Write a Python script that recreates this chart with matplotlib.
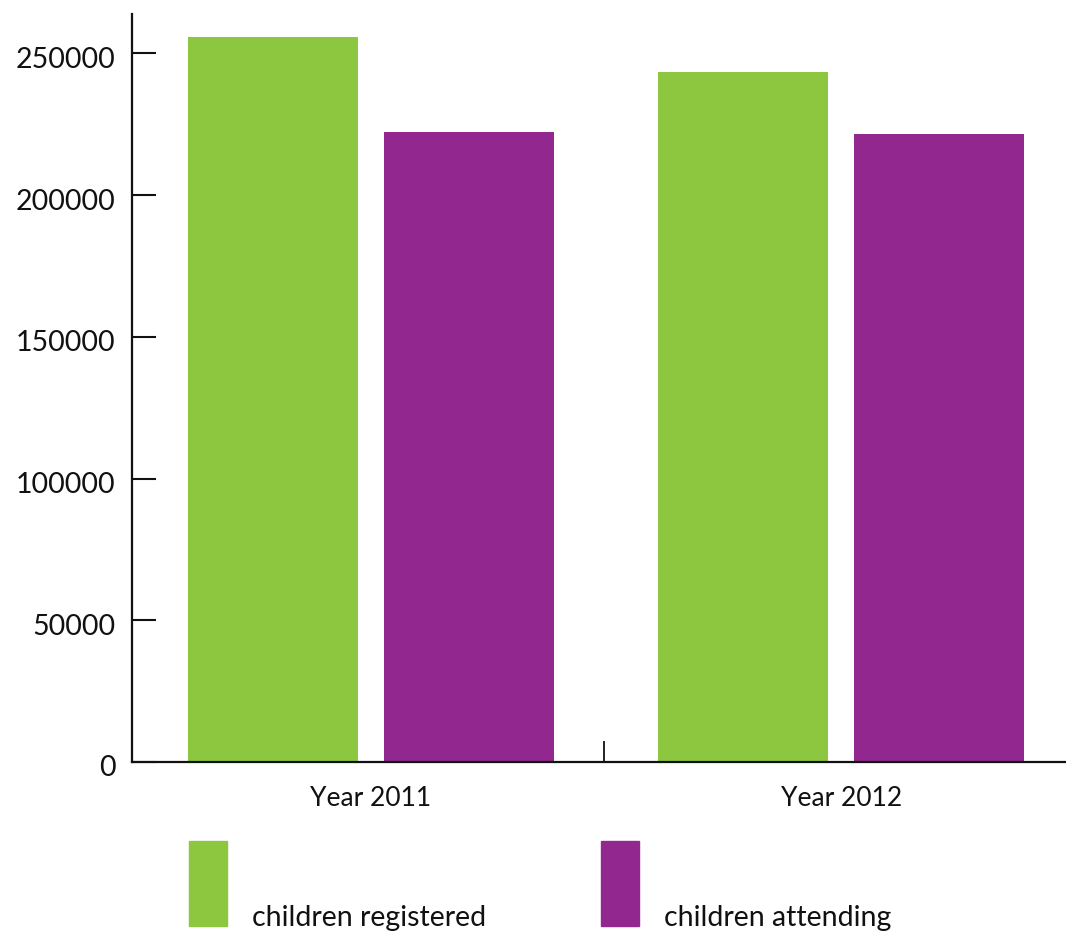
import matplotlib.pyplot as plt
from matplotlib.patches import Rectangle
from matplotlib.ticker import FixedLocator
from matplotlib.transforms import ScaledTranslation
import numpy as np

plt.rcParams['font.family'] = ['Lato', 'DejaVu Sans']

# data
years = ['Year 2011', 'Year 2012']
series_names = ['children registered', 'children attending']
registered = [255700, 243400]
attending = [222200, 221500]
colors = ['#8dc63f', '#92278f']

# figure and axes
fig = plt.figure(figsize=(10.66, 9.32), dpi=100)
ax = fig.add_axes([132 / 1066, 170 / 932, 940 / 1066, 748 / 932])

x = np.arange(len(years))
width = 0.361
offset = 0.208
ax.bar(x - offset, registered, width, color=colors[0])
ax.bar(x + offset, attending, width, color=colors[1])

ax.set_xlim(-0.507, 1.49)
ax.set_ylim(0, 263900)

# spines
for side in ['top', 'right']:
    ax.spines[side].set_visible(False)
for side in ['left', 'bottom']:
    ax.spines[side].set_linewidth(1.6)
    ax.spines[side].set_color('#111111')

# ticks
ax.set_yticks(np.arange(0, 250001, 50000))
ax.tick_params(axis='y', direction='in', length=17, width=1.5,
               labelsize=20.5, pad=12, colors='#111111')
ax.set_xticks(x)
ax.set_xticklabels(years)
ax.tick_params(axis='x', length=0, labelsize=19, pad=17, colors='#111111')
ax.xaxis.set_minor_locator(FixedLocator([0.495]))
ax.tick_params(axis='x', which='minor', direction='in', length=15, width=1.3,
               color='#111111')

# y labels sit a little below their ticks in the original
shift = ScaledTranslation(0, -4 / 100, fig.dpi_scale_trans)
for label in ax.get_yticklabels():
    label.set_transform(label.get_transform() + shift)

# legend drawn by hand below the chart
legend_x = [189, 601]
for name, color, lx in zip(series_names, colors, legend_x):
    fig.add_artist(Rectangle((lx / 1066, 6 / 932), 38 / 1066, 85 / 932,
                             transform=fig.transFigure, color=color))
    fig.text((lx + 63) / 1066, 6 / 932, name, fontsize=20.5,
             color='#111111', va='baseline', ha='left')

fig.savefig('out.png', dpi=100)
